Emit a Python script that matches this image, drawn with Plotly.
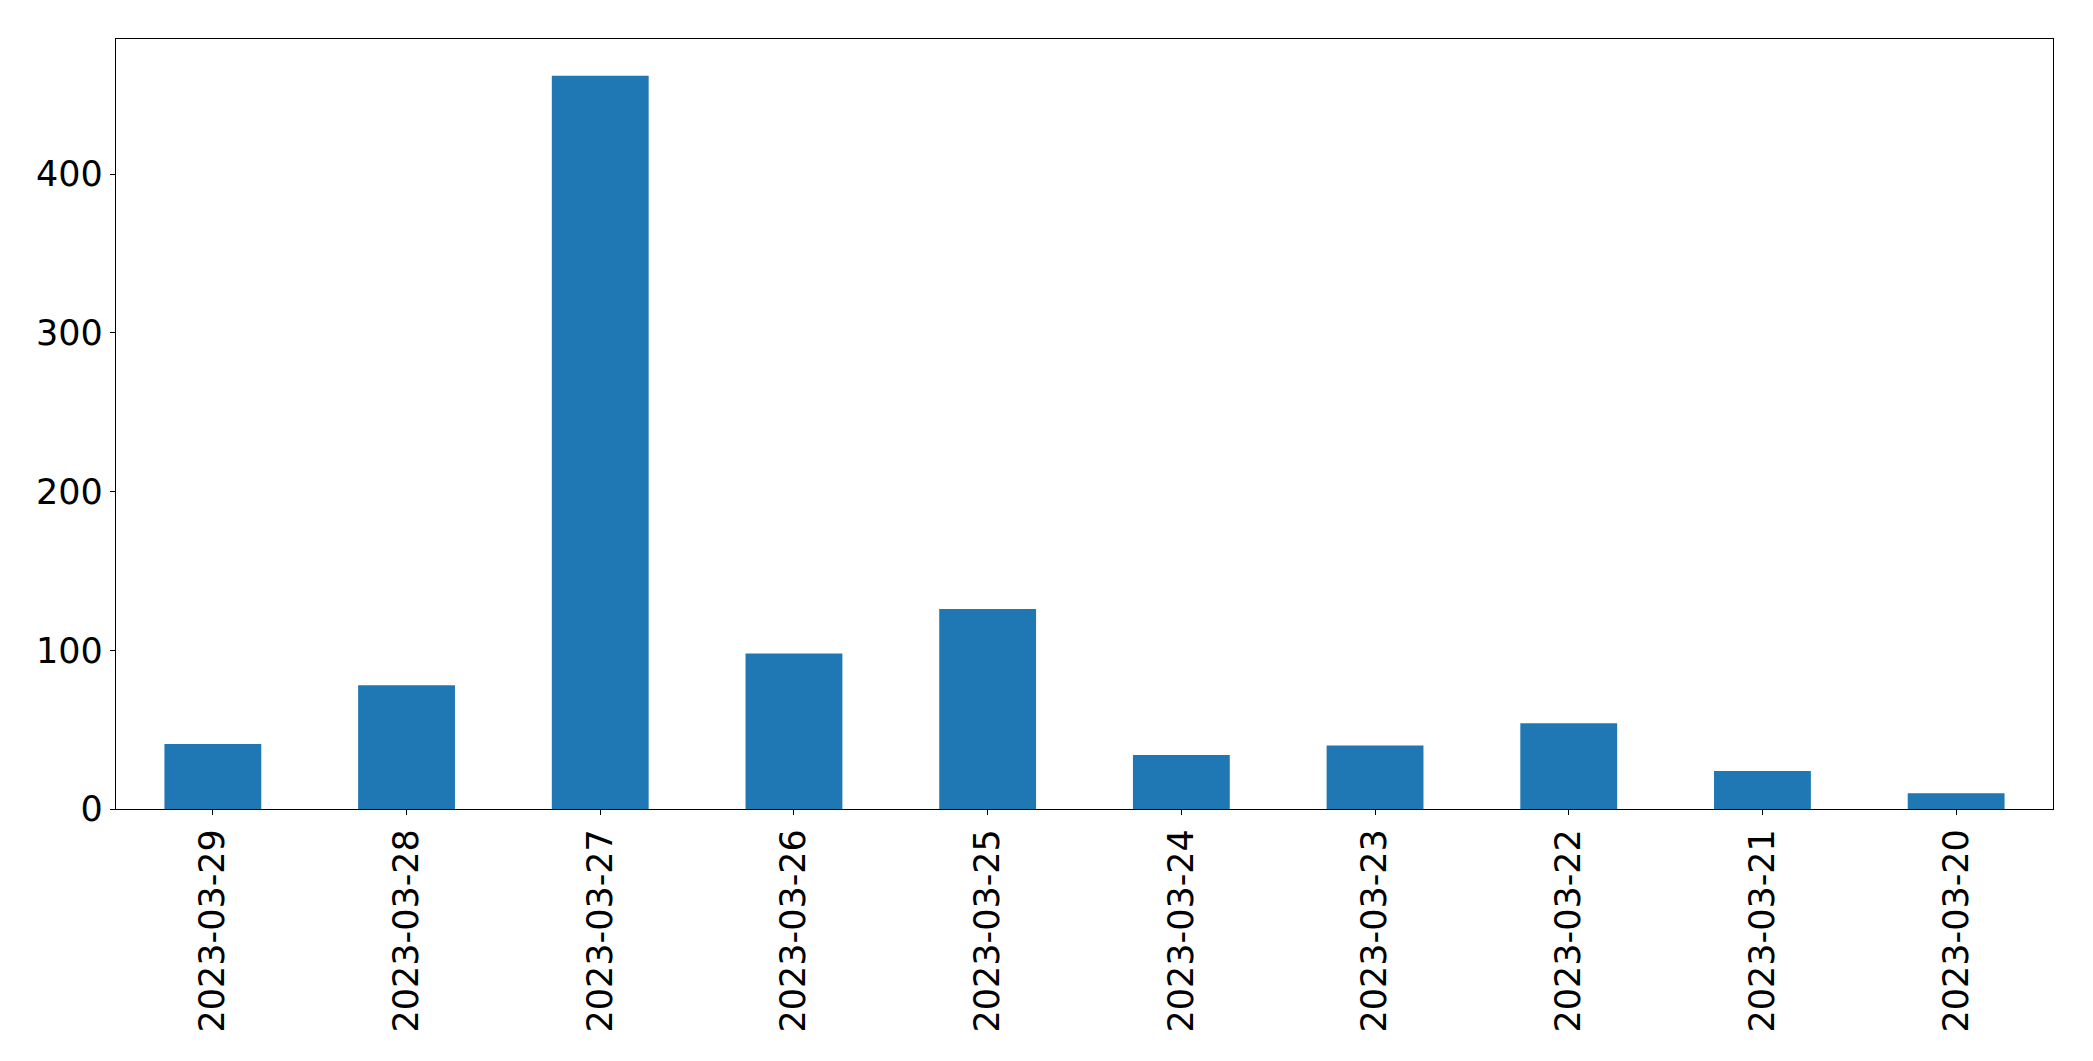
import plotly.graph_objects as go

dates = ["2023-03-29", "2023-03-28", "2023-03-27", "2023-03-26", "2023-03-25",
         "2023-03-24", "2023-03-23", "2023-03-22", "2023-03-21", "2023-03-20"]
counts = [41, 78, 462, 98, 126, 34, 40, 54, 24, 10]
y_ticks = [0, 100, 200, 300, 400]

fig = go.Figure(go.Bar(x=dates, y=counts, width=0.5, marker=dict(color="#1f77b4", line=dict(width=0))))

axis_common = dict(showline=True, linecolor="black", linewidth=1.3, mirror=True,
                   ticks="outside", ticklen=5, tickwidth=1.2, tickcolor="black",
                   showgrid=False, zeroline=False,
                   tickfont=dict(family="DejaVu Sans", size=35, color="black"))

fig.update_layout(
    width=2093, height=1061,
    margin=dict(l=108, r=48, t=31, b=260),
    plot_bgcolor="white", paper_bgcolor="white",
    showlegend=False, bargap=0.5,
    xaxis=dict(type="category", tickangle=-90, range=[-0.5, 9.5], **axis_common),
    yaxis=dict(range=[0, 485.1], tickvals=y_ticks, ticktext=[str(v) for v in y_ticks], **axis_common),
)

fig.write_html("out.html")
